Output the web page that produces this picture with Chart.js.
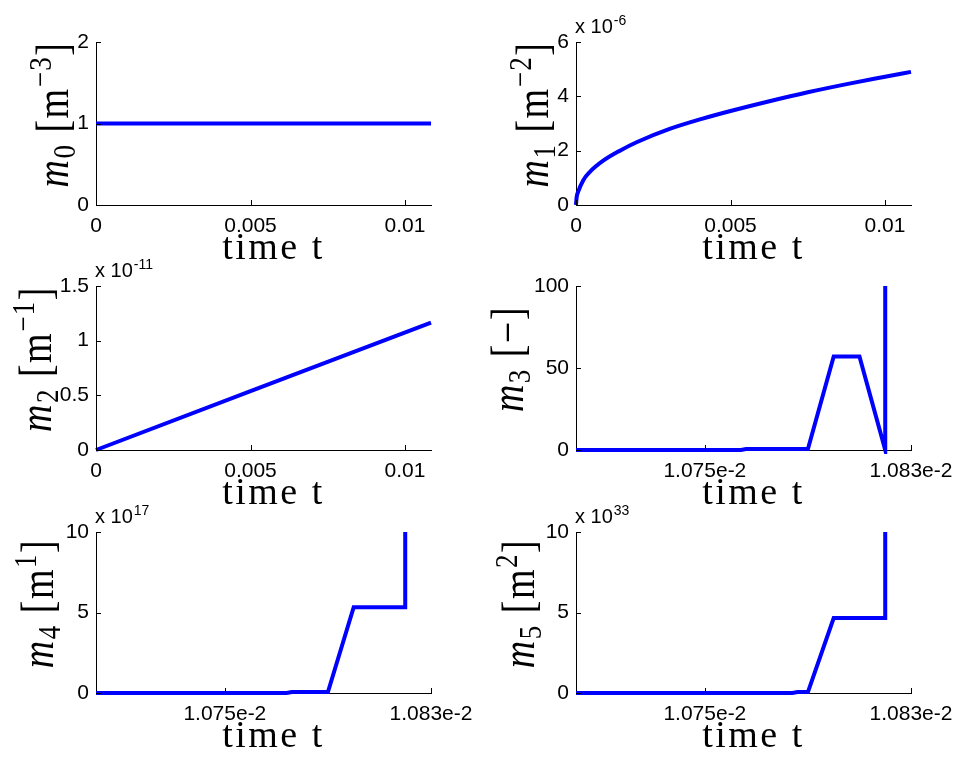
<!DOCTYPE html>
<html>
<head>
<meta charset="utf-8">
<script src="https://cdn.jsdelivr.net/npm/chart.js@4.4.1/dist/chart.umd.min.js"></script>
<style>
  html, body { margin: 0; padding: 0; background: #fff; overflow: hidden; }
  #wrap { position: relative; width: 960px; height: 758px; }
  canvas { position: absolute; left: 0; top: 0; }
</style>
</head>
<body>
<div id="wrap">
  <canvas id="p0" width="960" height="758"></canvas>
  <canvas id="p1" width="960" height="758"></canvas>
  <canvas id="p2" width="960" height="758"></canvas>
  <canvas id="p3" width="960" height="758"></canvas>
  <canvas id="p4" width="960" height="758"></canvas>
  <canvas id="p5" width="960" height="758"></canvas>
</div>
<script>
// moments m0..m5 over time
const m0Time = [0, 0.01084];
const m0Values = [1, 1];

const m1Time = [0, 0.00002, 0.000075, 0.00024, 0.00045, 0.00088, 0.00142, 0.00196,
                0.00303, 0.0041, 0.005, 0.00626, 0.0075, 0.0088, 0.01, 0.01084];
const m1Values = [0, 0.28e-6, 0.5e-6, 0.92e-6, 1.22e-6, 1.63e-6, 2.00e-6, 2.31e-6,
                  2.80e-6, 3.18e-6, 3.46e-6, 3.82e-6, 4.15e-6, 4.46e-6, 4.72e-6, 4.90e-6];

const m2Time = [0, 0.005, 0.01084];
const m2Values = [0, 0.538e-11, 1.166e-11];

// last step blows up, far above the axis limit
const m3Time = [0.01070, 0.010764, 0.010766, 0.010790, 0.010800, 0.010810, 0.010820, 0.010820];
const m3Values = [0, 0, 0.6, 0.6, 57, 57, 0, 2000];

const m4Time = [0.01070, 0.010774, 0.010776, 0.010790, 0.010800, 0.010820, 0.010820];
const m4Values = [0, 0, 0.06e17, 0.06e17, 5.33e17, 5.33e17, 1e19];

const m5Time = [0.01070, 0.010784, 0.010786, 0.010790, 0.010800, 0.010820, 0.010820];
const m5Values = [0, 0, 0.06e33, 0.06e33, 4.66e33, 4.66e33, 1e35];

// axis ranges and ticks
const topRange = [0, 0.01084];
const bottomRange = [0.01070, 0.01083];
const topTimeTicks = [0, 0.005, 0.01];
const topTimeLabels = ['0', '0.005', '0.01'];
const bottomTimeTicks = [0.01075, 0.01083];
const bottomTimeLabels = ['1.075e-2', '1.083e-2'];

const m0Ticks = [0, 1, 2];            const m0TickLabels = ['0', '1', '2'];
const m1Ticks = [0, 2e-6, 4e-6, 6e-6]; const m1TickLabels = ['0', '2', '4', '6'];
const m2Ticks = [0, 0.5e-11, 1e-11, 1.5e-11]; const m2TickLabels = ['0', '0.5', '1', '1.5'];
const m3Ticks = [0, 50, 100];         const m3TickLabels = ['0', '50', '100'];
const m4Ticks = [0, 5e17, 10e17];     const m4TickLabels = ['0', '5', '10'];
const m5Ticks = [0, 5e33, 10e33];     const m5TickLabels = ['0', '5', '10'];

const SERIF = '"Liberation Serif", "Times New Roman", serif';
const SANS = '"Liberation Sans", Arial, sans-serif';
const Y_W = 60, X_H = 40;

// y label pieces: italic m, subscript, bracketed unit with superscript
function momentLabel(sub, unit, sup) {
  const parts = [
    { t: 'm', f: 'italic 38px ' + SERIF, dy: 0 },
    { t: sub, f: '27px ' + SERIF, dy: 6 },
    { t: ' [' + unit, f: '38px ' + SERIF, dy: 0 }
  ];
  if (sup) parts.push({ t: sup, f: '27px ' + SERIF, dy: -14 });
  parts.push({ t: ']', f: '38px ' + SERIF, dy: 0 });
  return parts;
}

const axisText = {
  id: 'axisText',
  afterDraw(chart, args, o) {
    const { ctx, chartArea: a } = chart;
    const xs = chart.scales.x, ys = chart.scales.y;
    ctx.save();

    // inward tick marks
    ctx.strokeStyle = '#000';
    ctx.lineWidth = 1;
    ctx.beginPath();
    xs.ticks.forEach(t => {
      const px = Math.round(xs.getPixelForValue(t.value)) + 0.5;
      ctx.moveTo(px, a.bottom);
      ctx.lineTo(px, a.bottom - 5);
    });
    ys.ticks.forEach(t => {
      const py = Math.round(ys.getPixelForValue(t.value)) + 0.5;
      ctx.moveTo(a.left, py);
      ctx.lineTo(a.left + 5, py);
    });
    ctx.stroke();

    ctx.fillStyle = '#000';

    // x title
    ctx.font = '38px ' + SERIF;
    ctx.letterSpacing = '2.5px';
    ctx.textAlign = 'center';
    ctx.textBaseline = 'alphabetic';
    ctx.fillText('time t', (a.left + a.right) / 2 + 10, a.bottom + 54);

    // rotated y title
    ctx.letterSpacing = '1.5px';
    ctx.textAlign = 'left';
    let total = 0;
    o.ylabel.forEach(p => { ctx.font = p.f; p.w = ctx.measureText(p.t).width; total += p.w; });
    ctx.save();
    ctx.translate(a.left + o.titleX, (a.top + a.bottom) / 2 - 9);
    ctx.rotate(-Math.PI / 2);
    ctx.scale(1, 1.2);
    let x = -total / 2;
    o.ylabel.forEach(p => {
      ctx.font = p.f;
      ctx.fillText(p.t, x, p.dy);
      x += p.w;
    });
    ctx.restore();

    // scale factor above the y axis
    if (o.exponent) {
      ctx.letterSpacing = '0px';
      ctx.font = '20px ' + SANS;
      const base = 'x 10';
      ctx.fillText(base, a.left - 1, a.top - 9);
      const w = ctx.measureText(base).width;
      ctx.font = '14px ' + SANS;
      ctx.fillText(o.exponent, a.left - 1 + w + 1, a.top - 17);
    }
    ctx.restore();
  }
};

function makePanel(id, box, time, values, xRange, xTicks, xLabels, yRange, yTicks, yLabels, text, smooth) {
  const pts = time.map((t, i) => ({ x: t, y: values[i] }));
  return new Chart(document.getElementById(id), {
    type: 'line',
    data: {
      datasets: [{
        data: pts,
        borderColor: '#0000ff',
        borderWidth: 4,
        pointRadius: 0,
        fill: false,
        tension: 0,
        cubicInterpolationMode: smooth ? 'monotone' : 'default',
        clip: { left: 2, right: 2, top: 0, bottom: 4 }
      }]
    },
    options: {
      responsive: false,
      animation: false,
      devicePixelRatio: 1,
      events: [],
      layout: {
        padding: {
          left: box.left - Y_W,
          right: 960 - box.right,
          top: box.top,
          bottom: 758 - box.bottom - X_H
        }
      },
      plugins: {
        legend: { display: false },
        tooltip: { enabled: false },
        axisText: text
      },
      scales: {
        x: {
          type: 'linear',
          position: 'bottom',
          min: xRange[0],
          max: xRange[1],
          grid: { display: false, drawTicks: false, tickLength: 0 },
          border: { display: true, color: '#000', width: 1 },
          ticks: {
            autoSkip: false, maxRotation: 0, padding: 9, color: '#000',
            font: { family: SANS, size: 21 },
            callback: (v, i) => xLabels[i]
          },
          afterBuildTicks: s => { s.ticks = xTicks.map(v => ({ value: v })); },
          afterFit: s => { s.height = X_H; s.paddingLeft = 0; s.paddingRight = 0; }
        },
        y: {
          type: 'linear',
          position: 'left',
          min: yRange[0],
          max: yRange[1],
          grid: { display: false, drawTicks: false, tickLength: 0 },
          border: { display: true, color: '#000', width: 1 },
          ticks: {
            autoSkip: false, padding: 7, color: '#000',
            font: { family: SANS, size: 21 },
            callback: (v, i) => yLabels[i]
          },
          afterBuildTicks: s => { s.ticks = yTicks.map(v => ({ value: v })); },
          afterFit: s => { s.width = Y_W; s.paddingTop = 0; s.paddingBottom = 0; }
        }
      }
    },
    plugins: [axisText]
  });
}

const colL = { left: 96, right: 431 }, colR = { left: 576, right: 911 };
const row1 = { top: 42, bottom: 205 }, row2 = { top: 286, bottom: 450 }, row3 = { top: 532, bottom: 693 };
const at = (c, r) => ({ left: c.left, right: c.right, top: r.top, bottom: r.bottom });

makePanel('p0', at(colL, row1), m0Time, m0Values, topRange, topTimeTicks, topTimeLabels,
  [0, 2], m0Ticks, m0TickLabels, { ylabel: momentLabel('0', 'm', '\u22123'), titleX: -28 }, false);
makePanel('p1', at(colR, row1), m1Time, m1Values, topRange, topTimeTicks, topTimeLabels,
  [0, 6e-6], m1Ticks, m1TickLabels, { ylabel: momentLabel('1', 'm', '\u22122'), titleX: -28, exponent: '-6' }, true);
makePanel('p2', at(colL, row2), m2Time, m2Values, topRange, topTimeTicks, topTimeLabels,
  [0, 1.5e-11], m2Ticks, m2TickLabels, { ylabel: momentLabel('2', 'm', '\u22121'), titleX: -45, exponent: '-11' }, false);
makePanel('p3', at(colR, row2), m3Time, m3Values, bottomRange, bottomTimeTicks, bottomTimeLabels,
  [0, 100], m3Ticks, m3TickLabels, { ylabel: momentLabel('3', '\u2212', null), titleX: -53 }, false);
makePanel('p4', at(colL, row3), m4Time, m4Values, bottomRange, bottomTimeTicks, bottomTimeLabels,
  [0, 10e17], m4Ticks, m4TickLabels, { ylabel: momentLabel('4', 'm', '1'), titleX: -43 , exponent: '17' }, false);
makePanel('p5', at(colR, row3), m5Time, m5Values, bottomRange, bottomTimeTicks, bottomTimeLabels,
  [0, 10e33], m5Ticks, m5TickLabels, { ylabel: momentLabel('5', 'm', '2'), titleX: -42, exponent: '33' }, false);
</script>
</body>
</html>
